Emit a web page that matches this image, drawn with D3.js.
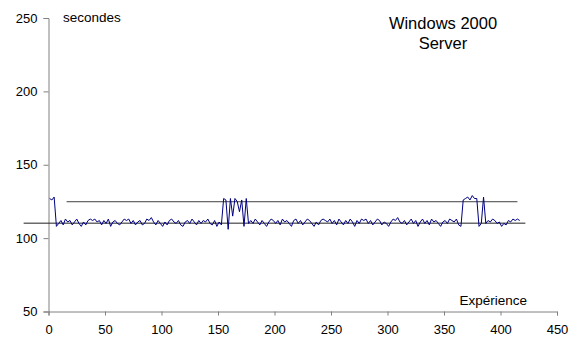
<!DOCTYPE html>
<html><head><meta charset="utf-8">
<script src="https://cdn.jsdelivr.net/npm/d3@7"></script>
<style>body{margin:0;background:#fff}svg{display:block;font-family:"Liberation Sans",Arial,sans-serif}</style>
</head><body><svg id="c" width="585" height="342"></svg>
<script>
// x = 1 + 2*i (Expérience), values in seconds
const seconds = [127,126,128,108,110,112,109,113,111,112,109,111,113,110,108,111,109,112,113,112,
113,111,112,109,112,110,113,108,111,112,110,109,111,113,112,113,110,112,109,111,
112,109,110,113,112,114,111,109,112,110,108,111,109,112,113,111,110,112,109,108,
111,112,110,113,111,109,112,110,112,111,113,110,109,112,108,111,109,127,126,106,
127,115,127,125,118,126,108,127,110,112,110,113,111,109,112,110,108,111,113,112,
110,112,109,113,111,112,110,108,112,113,110,112,109,111,113,112,110,108,111,109,
112,113,112,111,113,110,112,109,113,111,109,112,110,113,111,108,112,110,113,112,
113,110,112,109,111,113,112,109,111,110,108,111,113,112,114,111,110,112,109,111,
113,110,112,108,111,113,110,112,109,113,111,112,110,108,111,112,110,113,112,111,
113,109,108,126,127,128,126,129,127,127,108,110,128,110,112,111,113,112,110,111,
108,110,109,112,111,113,112,113,112];
const refLines = [
  {x0: 16, x1: 415, y: 124.8, color: "#404040"},
  {x0: -22, x1: 422, y: 110.2, color: "#202020"}
];
const xTicks = [0,50,100,150,200,250,300,350,400,450];
const yTicks = [50,100,150,200,250];
const titleLines = ["Windows 2000", "Server"];

const svg = d3.select("#c");
const x = d3.scaleLinear().domain([0,450]).range([48.5,557]);
const y = d3.scaleLinear().domain([50,250]).range([311.5,18]);

const axisColor = "#808080";
const gx = svg.append("g").attr("transform","translate(0,311.5)")
  .call(d3.axisBottom(x).tickValues(xTicks).tickSize(4).tickPadding(9.5).tickFormat(d3.format("d")));
const gy = svg.append("g").attr("transform","translate(48.5,0)")
  .call(d3.axisLeft(y).tickValues(yTicks).tickSize(5).tickPadding(6).tickFormat(d3.format("d")));
[gx,gy].forEach(g=>{
  g.select(".domain").attr("stroke",axisColor);
  g.selectAll(".tick line").attr("stroke",axisColor);
  g.selectAll("text").attr("fill","#000").style("font-size","13px").style("font-family","'Liberation Sans',Arial,sans-serif");
});

svg.selectAll("line.ref").data(refLines).enter().append("line")
  .attr("x1",d=>x(d.x0)).attr("x2",d=>x(d.x1))
  .attr("y1",d=>y(d.y)).attr("y2",d=>y(d.y))
  .attr("stroke",d=>d.color).attr("stroke-width",1);

const line = d3.line().x((d,i)=>x(1+2*i)).y(d=>y(d));
svg.append("path").datum(seconds).attr("d",line)
  .attr("fill","none").attr("stroke","#000080").attr("stroke-width",1);

svg.append("text").attr("x",63).attr("y",22).style("font-size","13.5px").text("secondes");
svg.append("text").attr("x",527).attr("y",305).attr("text-anchor","end").style("font-size","13.5px").text("Expérience");
svg.selectAll("text.title").data(titleLines).enter().append("text")
  .attr("x",443).attr("y",(d,i)=>29+i*20).attr("text-anchor","middle")
  .style("font-size","16.5px").text(d=>d);
</script></body></html>
